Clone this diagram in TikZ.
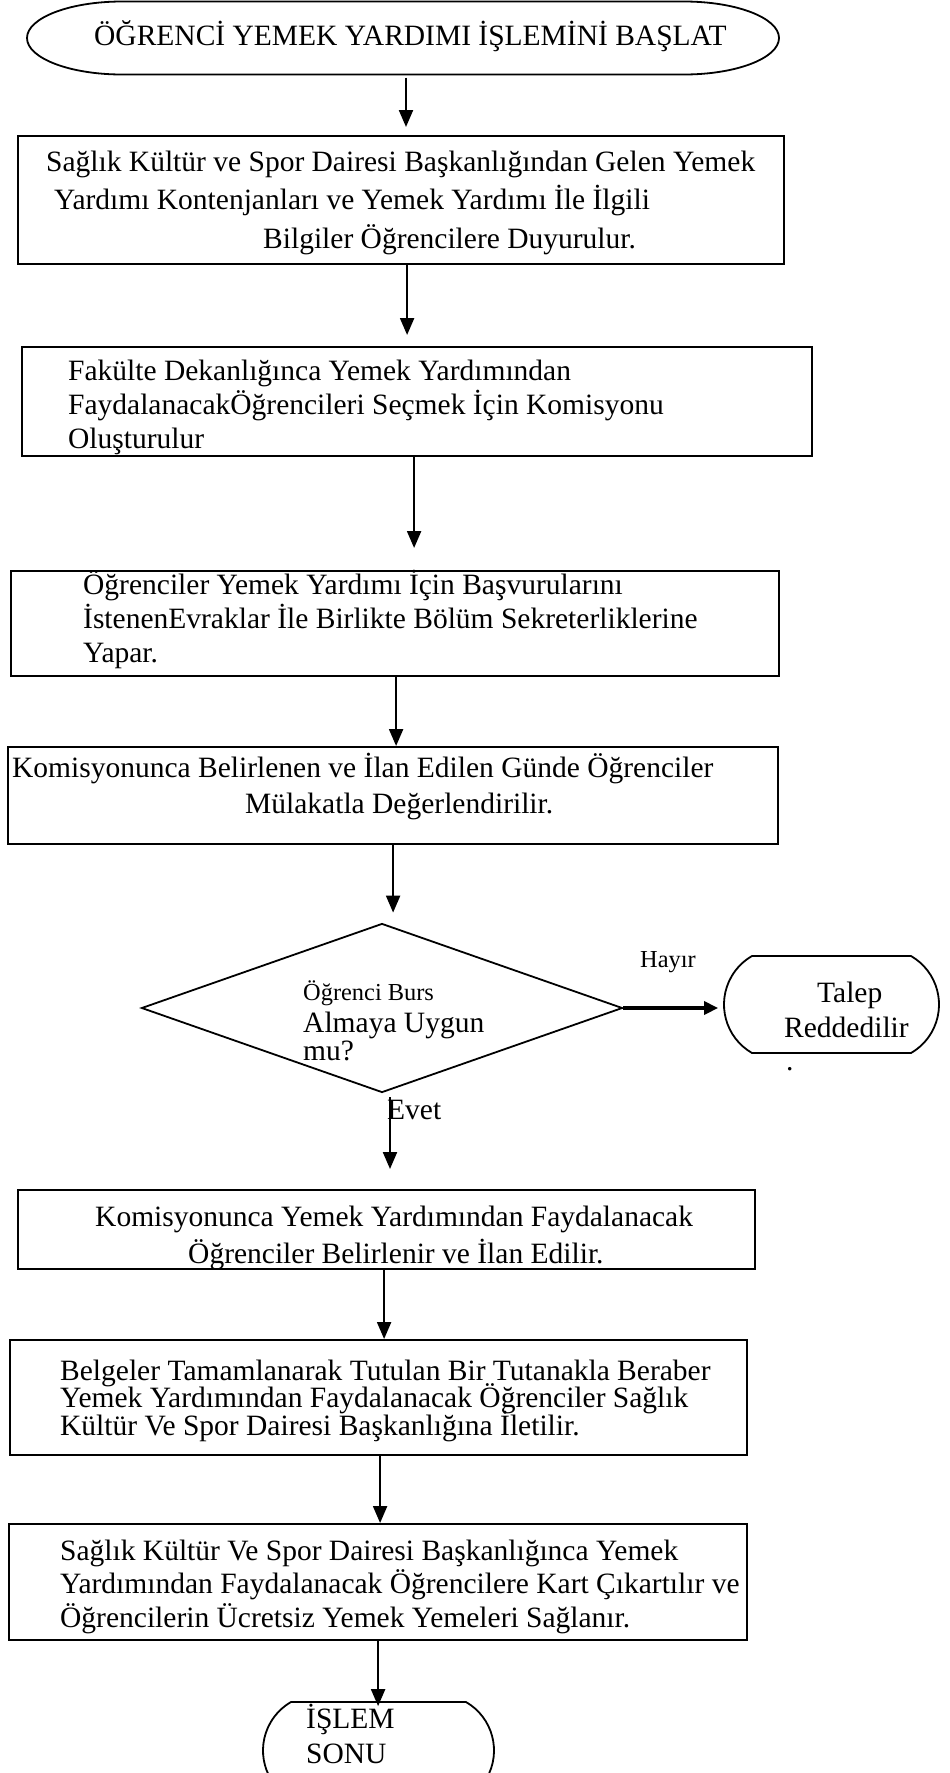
\documentclass[tikz,border=0pt]{standalone}
\usepackage{fontspec}
\setmainfont{Liberation Serif}
\usetikzlibrary{arrows.meta,shapes.geometric,shapes.misc}

\begin{document}
\begin{tikzpicture}[x=1pt,y=-1pt,
  txt/.style={anchor=base west,inner sep=0pt,font=\fontsize{29.5}{34}\selectfont},
  smalltxt/.style={anchor=base west,inner sep=0pt,font=\fontsize{24.4}{28}\selectfont},
  stepbox/.style={draw,line width=2.2pt,inner sep=0pt,anchor=north west},
  termbox/.style={draw,line width=1.8pt,inner sep=0pt,rounded rectangle,
    rounded rectangle arc length=120,minimum width=#1,minimum height=97pt},
  outline/.style={draw,line width=1.8pt},
  arr/.style={line width=2.2pt,-{Triangle[length=17pt,width=14pt]}},
  thickarr/.style={line width=3.4pt,-{Triangle[length=14pt,width=13pt]}}]

\useasboundingbox (0,0) rectangle (950,1773);
\fill[white] (0,0) rectangle (950,1773);

% start terminal: flat top and bottom with elliptic ends
\node[inner sep=0pt,minimum width=752pt,minimum height=73pt] (start) at (403,38) {};
\draw[outline] (122,1.5) -- (684,1.5)
  .. controls (736.4,1.5) and (779,17.9) .. (779,38)
  .. controls (779,58.1) and (736.4,74.5) .. (684,74.5)
  -- (122,74.5)
  .. controls (69.6,74.5) and (27,58.1) .. (27,38)
  .. controls (27,17.9) and (69.6,1.5) .. (122,1.5) -- cycle;
\node[txt] (t0) at (94,45) {ÖĞRENCİ YEMEK YARDIMI İŞLEMİNİ BAŞLAT};

% step 1
\node[stepbox,minimum width=766pt,minimum height=128pt] (b1) at (17,135) {};
\node[txt] (t1a) at (46,171) {Sağlık Kültür ve Spor Dairesi Başkanlığından Gelen Yemek};
\node[txt] (t1b) at (54,209.5) {Yardımı Kontenjanları ve Yemek Yardımı İle İlgili};
\node[txt] (t1c) at (263,248) {Bilgiler Öğrencilere Duyurulur.};

% step 2
\node[stepbox,minimum width=790pt,minimum height=109pt] (b2) at (21,346) {};
\node[txt] (t2a) at (68,380.5) {Fakülte Dekanlığınca Yemek Yardımından};
\node[txt] (t2b) at (68,414.5) {FaydalanacakÖğrencileri Seçmek İçin Komisyonu};
\node[txt] (t2c) at (68,448.5) {Oluşturulur};

% step 3
\node[stepbox,minimum width=768pt,minimum height=105pt] (b3) at (10,570) {};
\node[txt] (t3a) at (83,594) {Öğrenciler Yemek Yardımı İçin Başvurularını};
\node[txt] (t3b) at (83,628) {İstenenEvraklar İle Birlikte Bölüm Sekreterliklerine};
\node[txt] (t3c) at (83,662) {Yapar.};

% step 4
\node[stepbox,minimum width=770pt,minimum height=97pt] (b4) at (7,746) {};
\node[txt] (t4a) at (12,777) {Komisyonunca Belirlenen ve İlan Edilen Günde Öğrenciler};
\node[txt] (t4b) at (245,813) {Mülakatla Değerlendirilir.};

% decision
\node[draw,diamond,line width=1.8pt,inner sep=0pt,minimum width=481pt,minimum height=169pt] (dia) at (382,1008) {};
\node[smalltxt] (td1) at (303,1000) {Öğrenci Burs};
\node[txt] (td2) at (303,1032) {Almaya Uygun};
\node[txt] (td3) at (303,1060) {mu?};

% rejection terminal
\node[termbox=215pt] (rej) at (831.5,1004.5) {};
\node[txt] (tr1) at (817,1002) {Talep};
\node[txt] (tr2) at (784,1037) {Reddedilir};
\node[txt] (tr3) at (786,1070) {.};

\node[smalltxt] (hayir) at (640,967) {Hayır};
\node[txt] (evet) at (387,1119) {Evet};

% step 6
\node[stepbox,minimum width=737pt,minimum height=79pt] (b6) at (17,1189) {};
\node[txt] (t6a) at (95,1226.5) {Komisyonunca Yemek Yardımından Faydalanacak};
\node[txt] (t6b) at (188,1263) {Öğrenciler Belirlenir ve İlan Edilir.};

% step 7
\node[stepbox,minimum width=737pt,minimum height=115pt] (b7) at (9,1339) {};
\node[txt] (t7a) at (60,1380.5) {Belgeler Tamamlanarak Tutulan Bir Tutanakla Beraber};
\node[txt] (t7b) at (60,1407.5) {Yemek Yardımından Faydalanacak Öğrenciler Sağlık};
\node[txt] (t7c) at (60,1435) {Kültür Ve Spor Dairesi Başkanlığına İletilir.};

% step 8
\node[stepbox,minimum width=738pt,minimum height=116pt] (b8) at (8,1523) {};
\node[txt] (t8a) at (60,1560) {Sağlık Kültür Ve Spor Dairesi Başkanlığınca Yemek};
\node[txt] (t8b) at (60,1593) {Yardımından Faydalanacak Öğrencilere Kart Çıkartılır ve};
\node[txt] (t8c) at (60,1627) {Öğrencilerin Ücretsiz Yemek Yemeleri Sağlanır.};

% end terminal
\node[termbox=231pt] (son) at (378.5,1750.5) {};
\node[txt] (te1) at (306,1728) {İŞLEM};
\node[txt] (te2) at (306,1763) {SONU};

% connectors
\draw[arr,shorten <=3pt,shorten >=8pt] ([xshift=3pt]start.south) -- ([xshift=3pt]start.south |- b1.north);
\draw[arr,shorten >=11pt] ([xshift=6pt]b1.south) -- ([xshift=6pt]b1.south |- b2.north);
\draw[arr,shorten >=22pt] ([xshift=-3pt]b2.south) -- ([xshift=-3pt]b2.south |- b3.north);
\draw[arr] ([xshift=1pt]b3.south) -- ([xshift=1pt]b3.south |- b4.north);
\draw[arr,shorten >=10pt] (b4.south) -- (b4.south |- dia.north);
\draw[thickarr,shorten >=5pt] (dia.east) -- (dia.east -| rej.west);
\draw[arr,shorten <=4pt,shorten >=20pt] ([xshift=8pt]dia.south) -- ([xshift=8pt]dia.south |- b6.north);
\draw[arr] ([xshift=-2.5pt]b6.south) -- ([xshift=-2.5pt]b6.south |- b7.north);
\draw[arr] ([xshift=1.5pt]b7.south) -- ([xshift=1.5pt]b7.south |- b8.north);
\draw[arr,shorten >=-5pt] (b8.south) -- (b8.south |- son.north);

\end{tikzpicture}
\end{document}
